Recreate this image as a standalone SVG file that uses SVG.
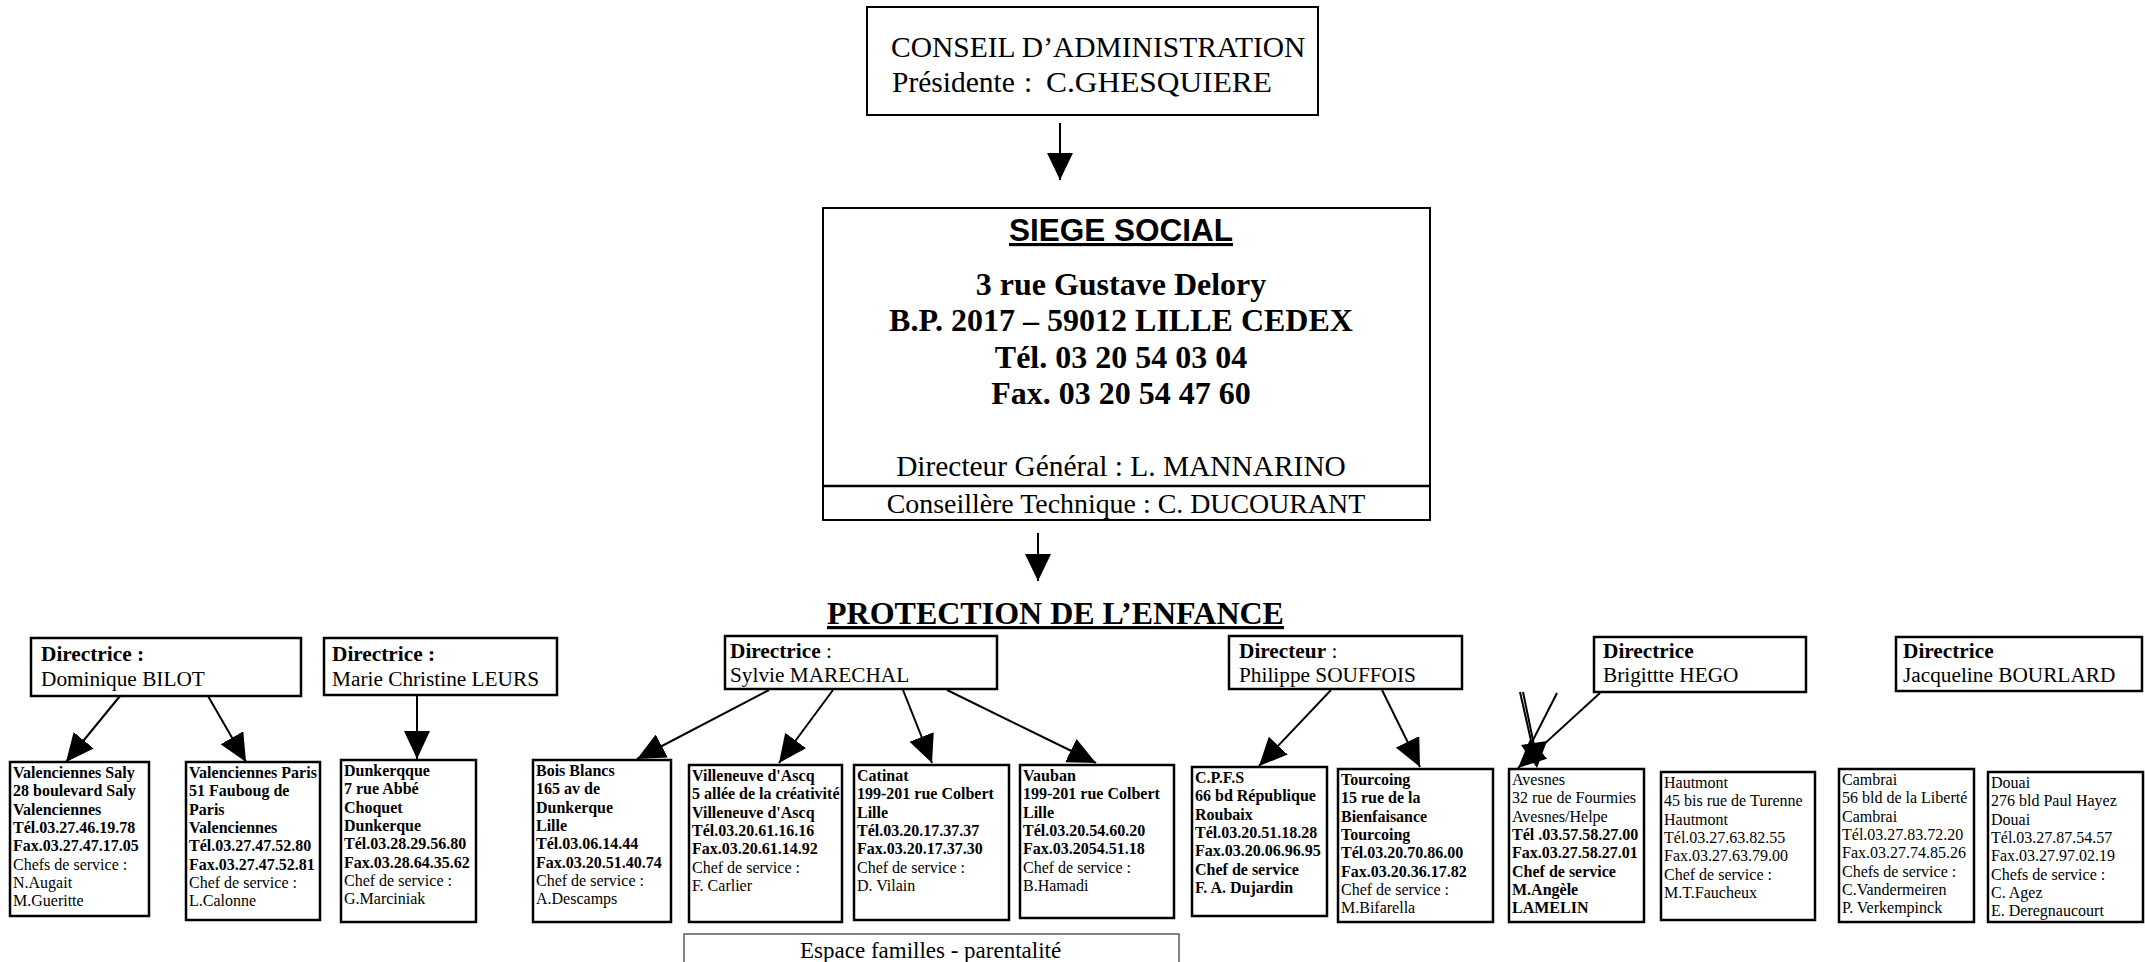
<svg xmlns="http://www.w3.org/2000/svg" width="2145" height="962" viewBox="0 0 2145 962">
<style>
.bx{fill:#fff;stroke:#000;stroke-width:2.5}
.bt{fill:#fff;stroke:#000;stroke-width:2}
.s{font-family:"Liberation Serif","Times New Roman",serif;font-size:16px;fill:#000}
.d{font-family:"Liberation Serif","Times New Roman",serif;font-size:21.3px;fill:#000}
.b{font-weight:bold}
.c{stroke:#000;stroke-width:2;fill:none}
</style>
<defs>
<marker id="ah" viewBox="0 0 28 26" refX="28" refY="13" markerWidth="28" markerHeight="26" markerUnits="userSpaceOnUse" orient="auto">
<path d="M0,0 L28,13 L0,26 Z" fill="#000"/>
</marker>
<marker id="ahb" viewBox="0 0 27 26" refX="27" refY="13" markerWidth="27" markerHeight="26" markerUnits="userSpaceOnUse" orient="auto">
<path d="M0,0 L27,13 L0,26 Z" fill="#000"/>
</marker>
</defs>
<rect width="2145" height="962" fill="#fff"/>

<g id="conseil">
<rect class="bt" x="867" y="7" width="451" height="108"/>
<text font-family="Liberation Serif, Times New Roman, serif" font-size="29.5" x="891" y="57">CONSEIL D’ADMINISTRATION</text>
<text font-family="Liberation Serif, Times New Roman, serif" font-size="29.5" y="92"><tspan x="892">Présidente</tspan><tspan x="1024">:</tspan><tspan x="1046" textLength="226" lengthAdjust="spacingAndGlyphs">C.GHESQUIERE</tspan></text>
</g>

<g id="siege">
<rect class="bt" x="823" y="208" width="607" height="312"/>
<line x1="823" y1="486" x2="1430" y2="486" stroke="#000" stroke-width="2.5"/>
<text font-family="Liberation Sans, Arial, sans-serif" font-size="31.5" font-weight="bold" text-anchor="middle" x="1121" y="241" text-decoration="underline">SIEGE SOCIAL</text>
<g font-family="Liberation Serif, Times New Roman, serif" font-size="32" font-weight="bold" text-anchor="middle">
<text x="1121" y="295">3 rue Gustave Delory</text>
<text x="1121" y="331">B.P. 2017 – 59012 LILLE CEDEX</text>
<text x="1121" y="368">Tél. 03 20 54 03 04</text>
<text x="1121" y="404">Fax. 03 20 54 47 60</text>
</g>
<text font-family="Liberation Serif, Times New Roman, serif" font-size="29.4" text-anchor="middle" x="1121" y="476">Directeur Général : L. MANNARINO</text>
<text font-family="Liberation Serif, Times New Roman, serif" font-size="27.9" text-anchor="middle" x="1126" y="513">Conseillère Technique : C. DUCOURANT</text>
</g>

<g id="protection">
<text font-family="Liberation Serif, Times New Roman, serif" font-size="32" font-weight="bold" x="827" y="624" text-decoration="underline">PROTECTION DE L’ENFANCE</text>
</g>

<g id="dir-bilot">
<rect class="bx" x="31" y="638" width="270" height="58"/>
<text class="d b" x="41" y="661">Directrice :</text>
<text class="d" x="41" y="686">Dominique BILOT</text>
</g>
<g id="dir-leurs">
<rect class="bx" x="324" y="638" width="233" height="57"/>
<text class="d b" x="332" y="661">Directrice :</text>
<text class="d" x="332" y="686">Marie Christine LEURS</text>
</g>
<g id="dir-marechal">
<rect class="bx" x="725" y="636" width="272" height="53"/>
<text class="d" x="730" y="658"><tspan class="b">Directrice</tspan> :</text>
<text class="d" x="730" y="682">Sylvie MARECHAL</text>
</g>
<g id="dir-souffois">
<rect class="bx" x="1229" y="636" width="233" height="53"/>
<text class="d" x="1239" y="658"><tspan class="b">Directeur</tspan> :</text>
<text class="d" x="1239" y="682">Philippe SOUFFOIS</text>
</g>
<g id="dir-hego">
<rect class="bx" x="1594" y="637" width="212" height="55"/>
<text class="d b" x="1603" y="658">Directrice</text>
<text class="d" x="1603" y="682">Brigittte HEGO</text>
</g>
<g id="dir-bourlard">
<rect class="bx" x="1896" y="637" width="246" height="54"/>
<text class="d b" x="1903" y="658">Directrice</text>
<text class="d" x="1903" y="682">Jacqueline BOURLARD</text>
</g>

<g id="saly">
<rect class="bx" x="10" y="762" width="139" height="154"/>
<text class="s b" x="13" y="778">Valenciennes Saly</text>
<text class="s b" x="13" y="796">28 boulevard Saly</text>
<text class="s b" x="13" y="815">Valenciennes</text>
<text class="s b" x="13" y="833">Tél.03.27.46.19.78</text>
<text class="s b" x="13" y="851">Fax.03.27.47.17.05</text>
<text class="s" x="13" y="870">Chefs de service :</text>
<text class="s" x="13" y="888">N.Augait</text>
<text class="s" x="13" y="906">M.Gueritte</text>
</g>
<g id="paris">
<rect class="bx" x="186" y="762" width="134" height="158"/>
<text class="s b" x="189" y="778">Valenciennes Paris</text>
<text class="s b" x="189" y="796">51 Fauboug de</text>
<text class="s b" x="189" y="815">Paris</text>
<text class="s b" x="189" y="833">Valenciennes</text>
<text class="s b" x="189" y="851">Tél.03.27.47.52.80</text>
<text class="s b" x="189" y="870">Fax.03.27.47.52.81</text>
<text class="s" x="189" y="888">Chef de service :</text>
<text class="s" x="189" y="906">L.Calonne</text>
</g>
<g id="dunkerque">
<rect class="bx" x="341" y="760" width="135" height="162"/>
<text class="s b" x="344" y="776">Dunkerqque</text>
<text class="s b" x="344" y="794">7 rue Abbé</text>
<text class="s b" x="344" y="813">Choquet</text>
<text class="s b" x="344" y="831">Dunkerque</text>
<text class="s b" x="344" y="849">Tél.03.28.29.56.80</text>
<text class="s b" x="344" y="868">Fax.03.28.64.35.62</text>
<text class="s" x="344" y="886">Chef de service :</text>
<text class="s" x="344" y="904">G.Marciniak</text>
</g>
<g id="bois-blancs">
<rect class="bx" x="533" y="760" width="138" height="162"/>
<text class="s b" x="536" y="776">Bois Blancs</text>
<text class="s b" x="536" y="794">165 av de</text>
<text class="s b" x="536" y="813">Dunkerque</text>
<text class="s b" x="536" y="831">Lille</text>
<text class="s b" x="536" y="849">Tél.03.06.14.44</text>
<text class="s b" x="536" y="868">Fax.03.20.51.40.74</text>
<text class="s" x="536" y="886">Chef de service :</text>
<text class="s" x="536" y="904">A.Descamps</text>
</g>
<g id="villeneuve">
<rect class="bx" x="689" y="765" width="153" height="157"/>
<text class="s b" x="692" y="781">Villeneuve d'Ascq</text>
<text class="s b" x="692" y="799">5 allée de la créativité</text>
<text class="s b" x="692" y="818">Villeneuve d'Ascq</text>
<text class="s b" x="692" y="836">Tél.03.20.61.16.16</text>
<text class="s b" x="692" y="854">Fax.03.20.61.14.92</text>
<text class="s" x="692" y="873">Chef de service :</text>
<text class="s" x="692" y="891">F. Carlier</text>
</g>
<g id="catinat">
<rect class="bx" x="854" y="765" width="155" height="155"/>
<text class="s b" x="857" y="781">Catinat</text>
<text class="s b" x="857" y="799">199-201 rue Colbert</text>
<text class="s b" x="857" y="818">Lille</text>
<text class="s b" x="857" y="836">Tél.03.20.17.37.37</text>
<text class="s b" x="857" y="854">Fax.03.20.17.37.30</text>
<text class="s" x="857" y="873">Chef de service :</text>
<text class="s" x="857" y="891">D. Vilain</text>
</g>
<g id="vauban">
<rect class="bx" x="1020" y="765" width="154" height="153"/>
<text class="s b" x="1023" y="781">Vauban</text>
<text class="s b" x="1023" y="799">199-201 rue Colbert</text>
<text class="s b" x="1023" y="818">Lille</text>
<text class="s b" x="1023" y="836">Tél.03.20.54.60.20</text>
<text class="s b" x="1023" y="854">Fax.03.2054.51.18</text>
<text class="s" x="1023" y="873">Chef de service :</text>
<text class="s" x="1023" y="891">B.Hamadi</text>
</g>
<g id="cpfs">
<rect class="bx" x="1192" y="767" width="135" height="149"/>
<text class="s b" x="1195" y="783">C.P.F.S</text>
<text class="s b" x="1195" y="801">66 bd République</text>
<text class="s b" x="1195" y="820">Roubaix</text>
<text class="s b" x="1195" y="838">Tél.03.20.51.18.28</text>
<text class="s b" x="1195" y="856">Fax.03.20.06.96.95</text>
<text class="s b" x="1195" y="875">Chef de service</text>
<text class="s b" x="1195" y="893">F. A. Dujardin</text>
</g>
<g id="tourcoing">
<rect class="bx" x="1338" y="769" width="155" height="153"/>
<text class="s b" x="1341" y="785">Tourcoing</text>
<text class="s b" x="1341" y="803">15 rue de la</text>
<text class="s b" x="1341" y="822">Bienfaisance</text>
<text class="s b" x="1341" y="840">Tourcoing</text>
<text class="s b" x="1341" y="858">Tél.03.20.70.86.00</text>
<text class="s b" x="1341" y="877">Fax.03.20.36.17.82</text>
<text class="s" x="1341" y="895">Chef de service :</text>
<text class="s" x="1341" y="913">M.Bifarella</text>
</g>
<g id="avesnes">
<rect class="bx" x="1509" y="769" width="135" height="153"/>
<text class="s" x="1512" y="785">Avesnes</text>
<text class="s" x="1512" y="803">32 rue de Fourmies</text>
<text class="s" x="1512" y="822">Avesnes/Helpe</text>
<text class="s b" x="1512" y="840">Tél .03.57.58.27.00</text>
<text class="s b" x="1512" y="858">Fax.03.27.58.27.01</text>
<text class="s b" x="1512" y="877">Chef de service</text>
<text class="s b" x="1512" y="895">M.Angèle</text>
<text class="s b" x="1512" y="913">LAMELIN</text>
</g>
<g id="hautmont">
<rect class="bx" x="1661" y="772" width="154" height="148"/>
<text class="s" x="1664" y="788">Hautmont</text>
<text class="s" x="1664" y="806">45 bis rue de Turenne</text>
<text class="s" x="1664" y="825">Hautmont</text>
<text class="s" x="1664" y="843">Tél.03.27.63.82.55</text>
<text class="s" x="1664" y="861">Fax.03.27.63.79.00</text>
<text class="s" x="1664" y="880">Chef de service :</text>
<text class="s" x="1664" y="898">M.T.Faucheux</text>
</g>
<g id="cambrai">
<rect class="bx" x="1839" y="769" width="135" height="153"/>
<text class="s" x="1842" y="785">Cambrai</text>
<text class="s" x="1842" y="803">56 bld de la Liberté</text>
<text class="s" x="1842" y="822">Cambrai</text>
<text class="s" x="1842" y="840">Tél.03.27.83.72.20</text>
<text class="s" x="1842" y="858">Fax.03.27.74.85.26</text>
<text class="s" x="1842" y="877">Chefs de service :</text>
<text class="s" x="1842" y="895">C.Vandermeiren</text>
<text class="s" x="1842" y="913">P. Verkempinck</text>
</g>
<g id="douai">
<rect class="bx" x="1988" y="772" width="155" height="150"/>
<text class="s" x="1991" y="788">Douai</text>
<text class="s" x="1991" y="806">276 bld Paul Hayez</text>
<text class="s" x="1991" y="825">Douai</text>
<text class="s" x="1991" y="843">Tél.03.27.87.54.57</text>
<text class="s" x="1991" y="861">Fax.03.27.97.02.19</text>
<text class="s" x="1991" y="880">Chefs de service :</text>
<text class="s" x="1991" y="898">C. Agez</text>
<text class="s" x="1991" y="916">E. Deregnaucourt</text>
</g>
<g id="espace-familles">
<rect x="684" y="934" width="495" height="40" fill="#fff" stroke="#333" stroke-width="1.2"/>
<text font-family="Liberation Serif, Times New Roman, serif" font-size="23" x="800" y="958">Espace familles - parentalité</text>
</g>

<g id="connectors">
<line class="c" x1="1060" y1="123" x2="1060" y2="180" marker-end="url(#ahb)"/>
<line class="c" x1="1038" y1="533" x2="1038" y2="581" marker-end="url(#ahb)"/>
<line class="c" x1="120" y1="696" x2="66" y2="762" marker-end="url(#ah)"/>
<line class="c" x1="208" y1="696" x2="246" y2="762" marker-end="url(#ah)"/>
<line class="c" x1="417" y1="695" x2="417" y2="759" marker-end="url(#ah)"/>
<line class="c" x1="769" y1="690" x2="637" y2="759" marker-end="url(#ah)"/>
<line class="c" x1="833" y1="690" x2="779" y2="763" marker-end="url(#ah)"/>
<line class="c" x1="903" y1="690" x2="932" y2="763" marker-end="url(#ah)"/>
<line class="c" x1="947" y1="690" x2="1096" y2="763" marker-end="url(#ah)"/>
<line class="c" x1="1331" y1="690" x2="1259" y2="766" marker-end="url(#ah)"/>
<line class="c" x1="1382" y1="690" x2="1420" y2="767" marker-end="url(#ah)"/>
<line class="c" x1="1600" y1="693" x2="1518" y2="768" marker-end="url(#ah)"/>
<line class="c" x1="1520" y1="692" x2="1532" y2="745"/>
<line class="c" x1="1523" y1="692" x2="1534" y2="745"/>
<line class="c" x1="1557" y1="693" x2="1532" y2="742"/>
<polygon points="1537,768 1521,745 1547,741" fill="#000"/>
</g>
</svg>
